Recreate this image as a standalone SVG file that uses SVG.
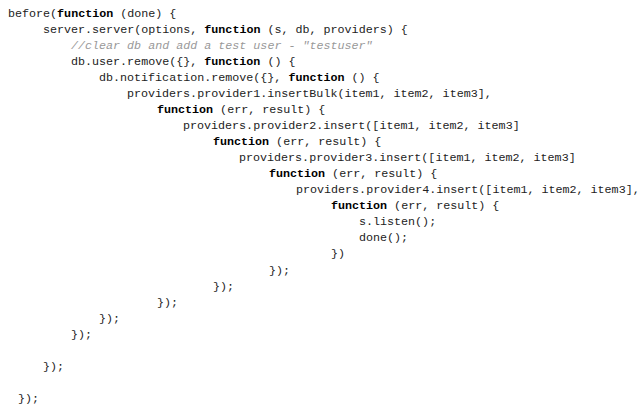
<svg xmlns="http://www.w3.org/2000/svg" width="644" height="411" viewBox="0 0 644 411">
<style>
text{font-family:"Liberation Mono",monospace;font-size:11.7px;fill:#222;white-space:pre}
.k{font-weight:bold;fill:#000}
.c{font-style:italic;fill:#999}
</style>
<rect width="644" height="411" fill="#fff"/>
<g id="code">
<text x="8" y="17">before(<tspan class="k">function</tspan> (done) {</text>
<text x="43" y="33">server.server(options, <tspan class="k">function</tspan> (s, db, providers) {</text>
<text x="71" y="49" class="c">//clear db and add a test user - "testuser"</text>
<text x="71" y="65">db.user.remove({}, <tspan class="k">function</tspan> () {</text>
<text x="99" y="81">db.notification.remove({}, <tspan class="k">function</tspan> () {</text>
<text x="127" y="97">providers.provider1.insertBulk(item1, item2, item3],</text>
<text x="157" y="113"><tspan class="k">function</tspan> (err, result) {</text>
<text x="183" y="129">providers.provider2.insert([item1, item2, item3]</text>
<text x="213" y="145"><tspan class="k">function</tspan> (err, result) {</text>
<text x="239" y="161">providers.provider3.insert([item1, item2, item3]</text>
<text x="269" y="177"><tspan class="k">function</tspan> (err, result) {</text>
<text x="296" y="193">providers.provider4.insert([item1, item2, item3],</text>
<text x="331" y="209"><tspan class="k">function</tspan> (err, result) {</text>
<text x="359" y="225">s.listen();</text>
<text x="359" y="241">done();</text>
<text x="331" y="257">})</text>
<text x="269" y="274">});</text>
<text x="213" y="290">});</text>
<text x="157" y="306">});</text>
<text x="99" y="322">});</text>
<text x="71" y="338">});</text>
<text x="43" y="370">});</text>
<text x="18" y="402">});</text>
</g>
</svg>
